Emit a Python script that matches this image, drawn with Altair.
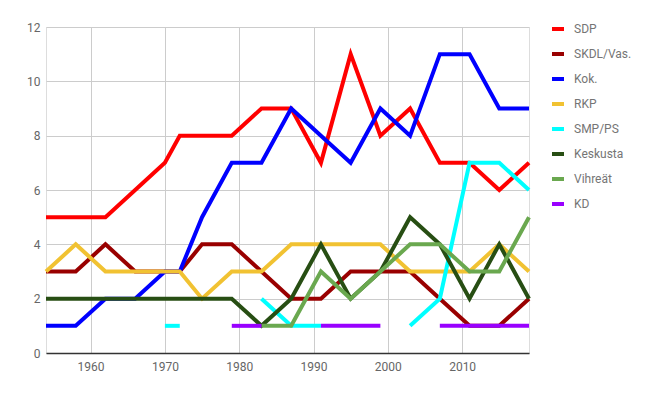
import altair as alt
import pandas as pd

years = [1954, 1958, 1962, 1966, 1970, 1972, 1975, 1979, 1983, 1987,
         1991, 1995, 1999, 2003, 2007, 2011, 2015, 2019]

parties = ["SDP", "SKDL/Vas.", "Kok.", "RKP", "SMP/PS", "Keskusta", "Vihreät", "KD"]
colors = ["#ff0000", "#990000", "#0000ff", "#f1c232", "#00ffff", "#274e13", "#6aa84f", "#9900ff"]

N = None
sdp      = [5, 5, 5, 6, 7, 8, 8, 8, 9, 9, 7, 11, 8, 9, 7, 7, 6, 7]
skdl     = [3, 3, 4, 3, 3, 3, 4, 4, 3, 2, 2, 3, 3, 3, 2, 1, 1, 2]
kok      = [1, 1, 2, 2, 3, 3, 5, 7, 7, 9, 8, 7, 9, 8, 11, 11, 9, 9]
rkp      = [3, 4, 3, 3, 3, 3, 2, 3, 3, 4, 4, 4, 4, 3, 3, 3, 4, 3]
smp      = [N, N, N, N, 1, 1, N, N, 2, 1, 1, N, N, 1, 2, 7, 7, 6]
keskusta = [2, 2, 2, 2, 2, 2, 2, 2, 1, 2, 4, 2, 3, 5, 4, 2, 4, 2]
vihreat  = [N, N, N, N, N, N, N, N, 1, 1, 3, 2, 3, 4, 4, 3, 3, 5]
kd       = [N, N, N, N, N, N, N, 1, 1, N, 1, 1, 1, N, 1, 1, 1, 1]

series = [sdp, skdl, kok, rkp, smp, keskusta, vihreat, kd]

rows = []
for pi, (party, vals) in enumerate(zip(parties, series)):
    seg = 0
    prev_none = True
    for y, v in zip(years, vals):
        if v is None:
            prev_none = True
            continue
        if prev_none:
            seg += 1
            prev_none = False
        rows.append({"year": y, "seats": v, "party": party,
                     "seg": f"{pi:02d}-{seg}", "ord": pi})
df = pd.DataFrame(rows)

chart = alt.Chart(df).mark_line(strokeWidth=4, strokeJoin="miter", strokeCap="butt").encode(
    x=alt.X("year:Q", scale=alt.Scale(domain=[1954, 2019], nice=False, zero=False),
            axis=alt.Axis(values=[1960, 1970, 1980, 1990, 2000, 2010], format="d",
                          title=None, grid=True, gridColor="#cccccc", ticks=False,
                          domain=True, domainColor="#333333", domainWidth=1.5,
                          labelColor="#666666", labelFontSize=12, labelFont="Roboto",
                          labelPadding=8)),
    y=alt.Y("seats:Q", scale=alt.Scale(domain=[0, 12], nice=False),
            axis=alt.Axis(values=[0, 2, 4, 6, 8, 10, 12], title=None, grid=True,
                          gridColor="#cccccc", ticks=False, domain=False,
                          labelColor="#666666", labelFontSize=12, labelFont="Roboto",
                          labelPadding=6)),
    color=alt.Color("party:N", scale=alt.Scale(domain=parties, range=colors),
                    legend=alt.Legend(title=None, orient="none", legendX=504, legendY=-6,
                                      symbolType="stroke", symbolStrokeWidth=4,
                                      symbolSize=144, labelFontSize=12, labelFont="Roboto",
                                      labelColor="#757575", rowPadding=9,
                                      labelOffset=8)),
    detail="seg:N",
    order="ord:Q",
).properties(
    width=483, height=326,
    autosize=alt.AutoSizeParams(type="none"),
    padding={"left": 38, "top": 19, "right": 110, "bottom": 32},
).configure_view(stroke=None).configure(background="white")

chart.save("out.html", embed_options={"renderer": "svg", "actions": False})
